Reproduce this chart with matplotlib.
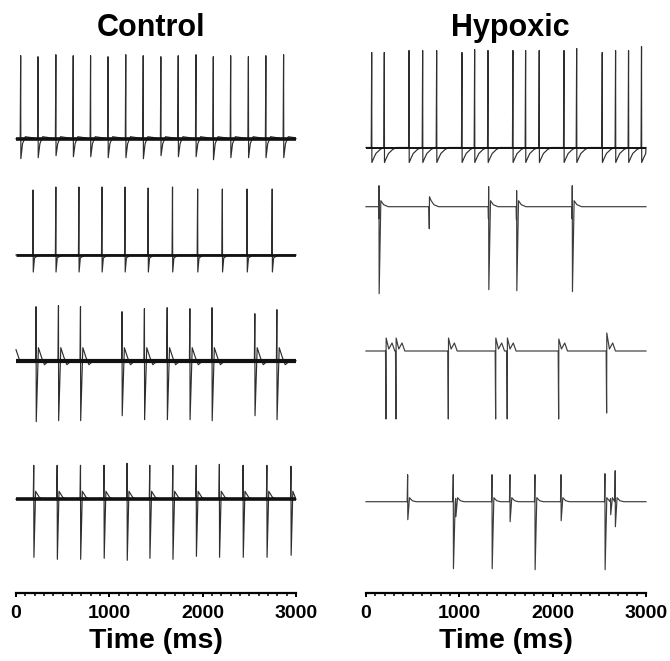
import numpy as np
import matplotlib
matplotlib.use('Agg')
import matplotlib.pyplot as plt
from matplotlib.ticker import MultipleLocator

plt.rcParams['font.family'] = ['Liberation Sans', 'DejaVu Sans']

# ---- data: spike times (ms), first / second peak of each spike, per trace ----
# Control
c1_t = [50, 236, 427, 613, 799, 986, 1176, 1363, 1552, 1738, 1928, 2114, 2300, 2490, 2677, 2867]
c1_up = [83, 82, 84, 83, 83, 82, 84, 83, 82, 83, 84, 82, 83, 82, 83, 84]
c1_dn = [-20, -19, -17, -18, -18, -19, -19, -20, -17, -18, -18, -21, -19, -19, -19, -19]

c2_t = [183, 427, 674, 921, 1168, 1416, 1677, 1946, 2211, 2476, 2745]
c2_up = [65, 68, 68, 68, 68, 67, 68, 66, 66, 66, 66]
c2_dn = [-17, -17, -17, -17, -17, -17, -17, -17, -17, -17, -17]

c3_t = [215, 455, 691, 1136, 1376, 1620, 1863, 2100, 2559, 2795]
c3_up = [54, 55, 54, 49, 52, 53, 52, 53, 47, 51]
c3_dn = [-61, -60, -60, -55, -59, -59, -59, -60, -55, -59]

c4_t = [190, 441, 691, 943, 1190, 1433, 1680, 1931, 2179, 2433, 2688, 2946]
c4_up = [34, 34, 34, 34, 36, 34, 34, 34, 35, 34, 34, 33]
c4_dn = [-58, -60, -60, -59, -61, -59, -60, -57, -58, -58, -58, -56]

# Hypoxic
h1_t = [61, 196, 461, 607, 757, 1028, 1164, 1307, 1574, 1710, 1856, 2121, 2257, 2531, 2674, 2813, 2952]
h1_up = [95, 95, 97, 97, 97, 95, 98, 97, 97, 97, 97, 97, 99, 95, 97, 97, 101]
h1_dn = [-15] * 17

h2_t = [139, 678, 1314, 1614, 2210]
h2_p1 = [21, -22, 20, 16, 21]
h2_p2 = [-87, 10, -83, -84, -85]
h2_pre = [-12, 0, -12, -13, -12]

h3_t = [214, 321, 882, 1389, 1513, 2064, 2578]
h3_p1 = [-68, -68, -68, -68, -68, -68, -62]
h3_p2 = [13, 13, 13, 13, 13, 12, 18]

h4_t = [446, 935, 961, 1350, 1542, 1810, 2089, 2560, 2620, 2670]
h4_p1 = [27, 27, 3, 27, 27, 27, 27, 28, 3, 31]
h4_p2 = [-18, -67, -15, -67, -20, -68, -19, -68, -13, -25]

# waveform following each spike: (ms after spike, value)
tail_c1 = [(20, -5), (50, 2), (120, 1), (170, 0)]
tail_c2 = [(15, -3), (60, 0)]
tail_c3 = [(25, 13), (60, 3), (90, -4), (140, 0)]
tail_c4 = [(20, 8), (60, 2), (100, 0)]
tail_h1 = [(15, -12), (45, -6), (90, -2), (130, 0)]
tail_h2 = [(20, 6), (50, 2), (100, 0)]
tail_h3 = [(30, 2), (65, 8), (95, 0)]
tail_h4 = [(20, 4), (50, 1), (90, 0)]


def trace(times, p1, p2, tail, pre=None, start=None):
    xs, ys = [0.0], [0.0]
    if start:
        xs, ys = [p[0] for p in start], [p[1] for p in start]
    for i, t in enumerate(times):
        stop = times[i + 1] - 10 if i + 1 < len(times) else 3000
        pts = [(t - 5, 0.0)]
        if pre is not None and pre[i] != 0:
            pts.append((t - 2, pre[i]))
        pts += [(t, p1[i]), (t + 2, p2[i])]
        pts += [(t + dt, v) for dt, v in tail if t + dt < stop]
        for x, y in pts:
            if xs[-1] < x <= 3000:
                xs.append(x)
                ys.append(y)
    if xs[-1] < 3000:
        xs.append(3000)
        ys.append(0.0)
    return np.array(xs), np.array(ys)


control = [
    (trace(c1_t, c1_up, c1_dn, tail_c1), -138.7, 2.6),
    (trace(c2_t, c2_up, c2_dn, tail_c2), -255.0, 2.0),
    (trace(c3_t, c3_up, c3_dn, tail_c3, start=[(0, 11), (40, 0)]), -360.7, 3.0),
    (trace(c4_t, c4_up, c4_dn, tail_c4), -499.3, 2.6),
]
hypoxic = [
    (trace(h1_t, h1_up, h1_dn, tail_h1), -147.5, 1.4),
    (trace(h2_t, h2_p1, h2_p2, tail_h2, pre=h2_pre), -206.7, 0),
    (trace(h3_t, h3_p1, h3_p2, tail_h3), -351.0, 0),
    (trace(h4_t, h4_p1, h4_p2, tail_h4), -501.7, 0),
]

fig = plt.figure(figsize=(6.7, 6.61), dpi=100)
ax_c = fig.add_axes([16 / 670, 68 / 661, 280 / 670, 553 / 661])
ax_h = fig.add_axes([366 / 670, 68 / 661, 280 / 670, 553 / 661])

for ax, rows, title, tx in [(ax_c, control, 'Control', 151 / 670),
                            (ax_h, hypoxic, 'Hypoxic', 510 / 670)]:
    for (x, y), off, base_lw in rows:
        col = '#2e2e2e' if base_lw else '#3c3c3c'
        ax.plot(x, y + off, color=col, lw=0.85, clip_on=False)
        if base_lw:
            ax.hlines(off, 0, 3000, color='#111111', lw=base_lw)
    ax.set_xlim(0, 3000)
    ax.set_ylim(-593, -40)
    for s in ['left', 'right', 'top']:
        ax.spines[s].set_visible(False)
    ax.spines['bottom'].set_linewidth(1.6)
    ax.set_yticks([])
    ax.xaxis.set_major_locator(MultipleLocator(1000))
    ax.xaxis.set_minor_locator(MultipleLocator(100))
    ax.tick_params(axis='x', which='major', length=3.2, width=1.4, pad=5.5,
                   labelsize=14)
    ax.tick_params(axis='x', which='minor', length=1.8, width=1.1)
    for lab in ax.get_xticklabels():
        lab.set_fontweight('bold')
    ax.set_xlabel('Time (ms)', fontsize=20.5, fontweight='bold', labelpad=4)
    fig.text(tx, 1 - 28 / 661, title, ha='center', va='center',
             fontsize=22, fontweight='bold')

fig.savefig('out.png', dpi=100)
